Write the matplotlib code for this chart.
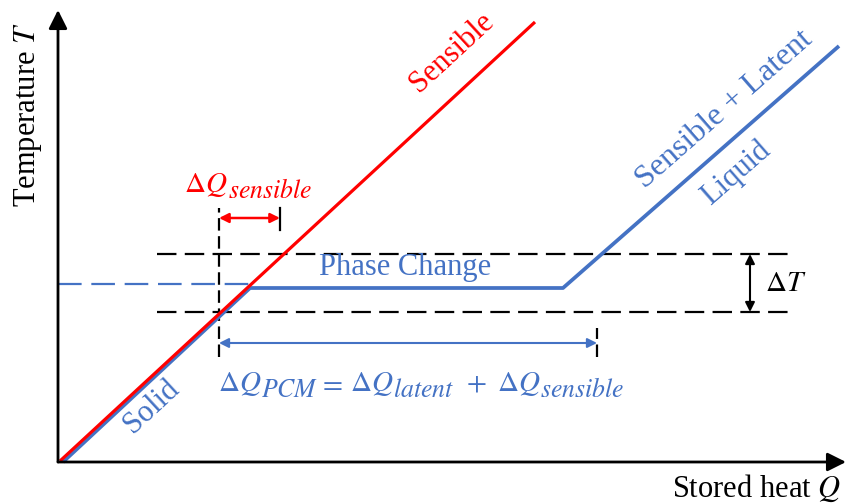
import matplotlib
matplotlib.use('Agg')
import matplotlib.pyplot as plt
from matplotlib.transforms import offset_copy

plt.rcParams['font.family'] = ['Liberation Serif', 'DejaVu Serif']
plt.rcParams['mathtext.fontset'] = 'stix'
plt.rcParams['lines.scale_dashes'] = False

RED = '#ff0000'
BLUE = '#4472c4'

# Schematic curves (Q = stored heat, T = temperature), arbitrary units
sensible_Q = [2, 477]
sensible_T = [1, 440]
pcm_Q = [5, 192, 505, 781]
pcm_T = [0, 174, 174, 416]
melt_Q = [0, 192]
melt_T = [178, 178]

# phase-change band
band_lo = 150
band_hi = 208
band_Q = [99, 737]

# markers for the delta-Q ranges
q_start = 161
q_sens_end = 222
q_pcm_end = 539
arrow_sens_T = 244
arrow_pcm_T = 119
dT_Q = 692

fig = plt.figure(figsize=(8.46, 5.03), dpi=100)
ax = fig.add_axes([0, 0, 1, 1])
ax.set_xlim(-58, 788)
ax.set_ylim(-41, 462)
ax.axis('off')
renderer = fig.canvas.get_renderer()


def math_row(x, y, pieces, color):
    # pieces: (text, fontsize, vertical shift in px); row is centred on x
    texts = []
    widths = []
    for s, size, dy in pieces:
        t = ax.text(x, y, s, fontsize=size, color=color, ha='left', va='baseline')
        texts.append((t, dy))
        widths.append(t.get_window_extent(renderer).width)
    pos = -sum(widths) / 2
    for (t, dy), w in zip(texts, widths):
        t.set_transform(offset_copy(ax.transData, fig=fig, x=pos * 72 / fig.dpi,
                                    y=dy * 72 / fig.dpi, units='points'))
        pos += w


# axes with arrows
ax.annotate('', xy=(0, 452), xytext=(0, 0),
            arrowprops=dict(arrowstyle='-|>', mutation_scale=28, lw=2, color='k',
                            shrinkA=0, shrinkB=0))
ax.annotate('', xy=(788, 0), xytext=(0, 0),
            arrowprops=dict(arrowstyle='-|>', mutation_scale=28, lw=2, color='k',
                            shrinkA=0, shrinkB=0))

# band dashed lines
for t in (band_lo, band_hi):
    ax.plot(band_Q, [t, t], color='k', lw=1.6, dashes=(14, 6))

# vertical markers
ax.plot([q_start, q_start], [105, 254], color='k', lw=1.6, dashes=(9, 4))
ax.plot([q_sens_end, q_sens_end], [232, 254], color='k', lw=1.6)
ax.plot([q_pcm_end, q_pcm_end], [105, 134], color='k', lw=1.6, dashes=(9, 4))

# curves
ax.plot(melt_Q, melt_T, color=BLUE, lw=1.6, dashes=(17, 7))
ax.plot(pcm_Q, pcm_T, color=BLUE, lw=2.7, solid_capstyle='butt')
ax.plot(sensible_Q, sensible_T, color=RED, lw=2.3, solid_capstyle='butt')

# double arrows
ax.annotate('', xy=(q_sens_end, arrow_sens_T), xytext=(q_start, arrow_sens_T),
            arrowprops=dict(arrowstyle='<|-|>', mutation_scale=14, lw=1.8, color=RED,
                            shrinkA=0, shrinkB=0))
ax.annotate('', xy=(q_pcm_end, arrow_pcm_T), xytext=(q_start, arrow_pcm_T),
            arrowprops=dict(arrowstyle='<|-|>', mutation_scale=14, lw=1.5, color=BLUE,
                            shrinkA=0, shrinkB=0))
ax.annotate('', xy=(dT_Q, band_hi), xytext=(dT_Q, band_lo),
            arrowprops=dict(arrowstyle='<|-|>', mutation_scale=14, lw=1.5, color='k',
                            shrinkA=0, shrinkB=0))

# labels
ax.text(-30, 347, r'Temperature $T$', rotation=90, ha='center', va='center', fontsize=22)
ax.text(699, -26, r'Stored heat $Q$', ha='center', va='center', fontsize=22)
math_row(190, 270, [(r'$\Delta Q$', 21, 0), (r'$sensible$', 18.5, -6)], RED)
ax.text(347, 195, 'Phase Change', color=BLUE, ha='center', va='center', fontsize=22)
ax.text(728, 178, r'$\Delta T$', ha='center', va='center', fontsize=21)
math_row(363, 71, [(r'$\Delta Q$', 21, 0), (r'$PCM$', 18.5, -6),
                   (r'$=$', 21, 0), (r'$\ \Delta Q$', 21, 0), (r'$latent$', 18.5, -6),
                   (r'$\ +\ \Delta Q$', 21, 0), (r'$sensible$', 18.5, -6)], BLUE)
ax.text(94, 55, 'Solid', color=BLUE, rotation=42.8, ha='center', va='center', fontsize=22)
ax.text(394, 410, 'Sensible', color=RED, rotation=42.7, ha='center', va='center', fontsize=22)
ax.text(666, 352, 'Sensible + Latent', color=BLUE, rotation=41.2, ha='center', va='center',
        fontsize=23)
ax.text(678, 289, 'Liquid', color=BLUE, rotation=41.2, ha='center', va='center', fontsize=22)

fig.savefig('out.png', dpi=100)
